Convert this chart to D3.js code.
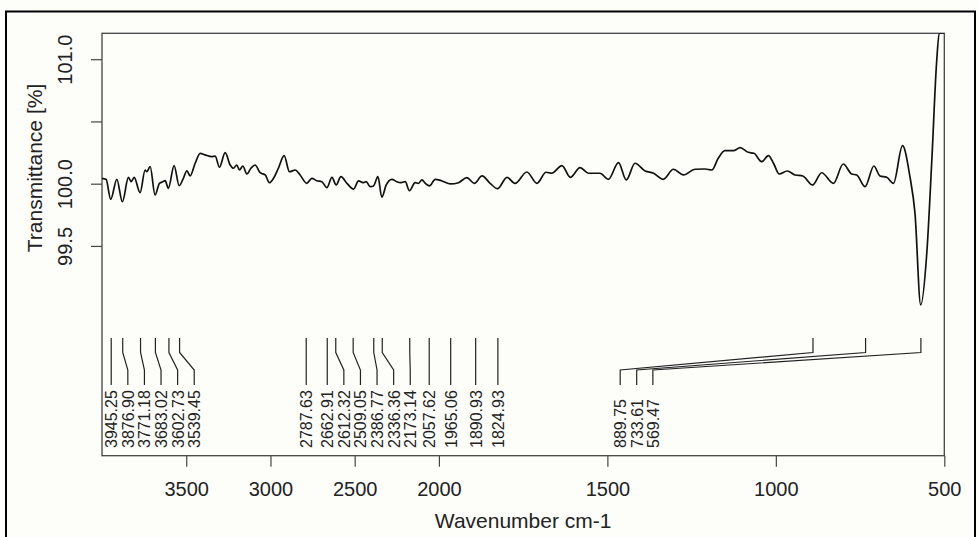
<!DOCTYPE html>
<html>
<head>
<meta charset="utf-8">
<script src="https://cdn.jsdelivr.net/npm/d3@7"></script>
<style>
  body { margin: 0; background: #fdfdfa; }
  svg { display: block; font-family: "Liberation Sans", Arial, sans-serif; }
</style>
</head>
<body>
<svg id="irPlot" width="978" height="537"></svg>
<script>
// ************************************
// Data
// ************************************

const wavenumber = [
  4000, 3976, 3948, 3912, 3879, 3843, 3827, 3809, 3774, 3744, 3734, 3714, 3685, 3659, 3639, 3625,
  3606, 3572, 3542, 3517, 3496, 3477, 3447, 3417, 3388, 3348, 3328, 3303, 3269, 3239, 3220, 3200,
  3184, 3164, 3140, 3116, 3091, 3061, 3031, 3006, 2982, 2953, 2919, 2887, 2853, 2824, 2784, 2754,
  2725, 2695, 2665, 2635, 2610, 2582, 2546, 2507, 2477, 2451, 2432, 2408, 2388, 2362, 2339, 2313,
  2279, 2250, 2230, 2200, 2175, 2141, 2121, 2101, 2081, 2056, 2022, 1991, 1966, 1942, 1917, 1895,
  1872, 1848, 1826, 1798, 1774, 1739, 1709, 1682, 1665, 1635, 1610, 1581, 1556, 1522, 1497, 1467,
  1444, 1418, 1388, 1363, 1334, 1304, 1274, 1240, 1210, 1190, 1171, 1151, 1126, 1106, 1082, 1065,
  1042, 1022, 1007, 990, 966, 943, 920, 891, 864, 829, 800, 775, 760, 735, 709, 691,
  671, 651, 624, 602, 587, 570, 552, 537, 523, 515, 500
];

const transmittance = [
  100.043, 100.035, 99.875, 100.035, 99.855, 100.051, 100.016, 100.051, 99.928, 100.110, 100.096, 100.137, 99.909, 100.003, 100.016, 100.024,
  99.963, 100.145, 99.984, 100.043, 100.104, 100.062, 100.164, 100.244, 100.231, 100.217, 100.222, 100.132, 100.249, 100.150, 100.124, 100.150,
  100.110, 100.142, 100.078, 100.124, 100.150, 100.088, 100.070, 100.008, 100.043, 100.124, 100.225, 100.096, 100.110, 100.070, 100.003, 100.043,
  100.024, 100.016, 99.968, 100.051, 99.990, 100.056, 100.003, 99.957, 100.022, 100.008, 100.016, 99.976, 99.982, 100.056, 99.891, 99.990,
  100.035, 100.016, 100.008, 100.016, 99.944, 100.008, 100.003, 100.030, 100.003, 99.982, 100.035, 100.022, 99.998, 100.008, 100.048, 100.003,
  100.062, 100.003, 99.960, 100.051, 100.003, 100.094, 100.003, 100.092, 100.084, 100.145, 100.051, 100.129, 100.084, 100.084, 100.035, 100.169,
  100.030, 100.164, 100.102, 100.084, 100.035, 100.116, 100.070, 100.116, 100.118, 100.110, 100.204, 100.265, 100.265, 100.289, 100.252, 100.244,
  100.177, 100.225, 100.164, 100.078, 100.102, 100.070, 100.062, 99.990, 100.088, 100.003, 100.158, 100.078, 100.070, 99.976, 100.142, 100.062,
  100.051, 100.003, 100.305, 100.056, 99.762, 99.026, 99.441, 100.190, 100.967, 101.210, 101.210
];

// picked peaks
const peaks = [
  3945.25, 3876.90, 3771.18, 3683.02, 3602.73, 3539.45,
  2787.63, 2662.91, 2612.32, 2509.05, 2386.77, 2336.36, 2173.14, 2057.62,
  1965.06, 1890.93, 1824.93,
  889.75, 733.61, 569.47
];
// where a label was moved away from its peak (cm-1), null = spread normally
const labelAt = [
  null, null, null, null, null, null,
  null, null, null, null, null, null, null, null,
  null, null, null,
  1462, 1413, 1365
];

const xTicks = [3500, 3000, 2500, 2000, 1500, 1000, 500];
const yTicks = [99.5, 100.0, 100.5, 101.0];
const yTickLabels = ["99.5", "100.0", "", "101.0"];


// ************************************
// Plot area
// ************************************

const svg = d3.select("#irPlot");

const box = { left: 102, right: 944.3, top: 33.3, bottom: 455.7 };

// axis is squeezed above 2000 cm-1
const x = d3.scaleLinear()
    .domain([4000, 2000, 500])
    .range([box.left, box.left + (box.right - box.left) * 0.4, box.right]);

const y = d3.scaleLinear()
    .domain([97.815, 101.208])
    .range([box.bottom, box.top]);

// outer frame
svg.append("rect")
    .attr("x", 6).attr("y", 11.5)
    .attr("width", 969).attr("height", 560)
    .attr("fill", "none")
    .attr("stroke", "#000")
    .attr("stroke-width", 2);

svg.append("clipPath").attr("id", "clip")
  .append("rect")
    .attr("x", box.left).attr("y", box.top)
    .attr("width", box.right - box.left).attr("height", box.bottom - box.top);

// X axis
const xAxis = svg.append("g")
    .attr("class", "x axis")
    .attr("transform", `translate(0,${box.bottom})`)
    .call(d3.axisBottom(x).tickValues(xTicks).tickSize(11).tickFormat(d3.format("d")));

xAxis.select(".domain").remove();
xAxis.selectAll("line").attr("stroke", "#444").attr("stroke-width", 1.2);
xAxis.selectAll("text")
    .attr("dy", null)
    .attr("y", 40.5)
    .attr("fill", "#222")
    .style("font-size", "20px");

// Y axis
const yAxis = svg.append("g")
    .attr("class", "y axis")
    .attr("transform", `translate(${box.left},0)`)
    .call(d3.axisLeft(y).tickValues(yTicks).tickSize(11).tickFormat((d, i) => yTickLabels[i]));

yAxis.select(".domain").remove();
yAxis.selectAll("line").attr("stroke", "#444").attr("stroke-width", 1.2);
yAxis.selectAll("text")
    .attr("transform", "rotate(-90)")
    .attr("x", 0)
    .attr("y", -30)
    .attr("dy", null)
    .attr("text-anchor", "middle")
    .attr("fill", "#222")
    .style("font-size", "20px");

// box round the plot
svg.append("rect")
    .attr("x", box.left).attr("y", box.top)
    .attr("width", box.right - box.left).attr("height", box.bottom - box.top)
    .attr("fill", "none")
    .attr("stroke", "#444")
    .attr("stroke-width", 1.3);

// axis titles
svg.append("text")
    .attr("x", (x(4000) + x(500)) / 2)
    .attr("y", 528)
    .attr("text-anchor", "middle")
    .attr("fill", "#222")
    .style("font-size", "21px")
    .text("Wavenumber cm-1");

svg.append("text")
    .attr("transform", "translate(41.5,168) rotate(-90)")
    .attr("text-anchor", "middle")
    .attr("fill", "#222")
    .style("font-size", "21px")
    .text("Transmittance [%]");


// ************************************
// Spectrum
// ************************************

const spectrum = wavenumber.map((w, i) => ({ w: w, t: transmittance[i] }));

const line = d3.line()
    .x(d => x(d.w))
    .y(d => y(d.t))
    .curve(d3.curveMonotoneX);

svg.append("path")
    .datum(spectrum)
    .attr("clip-path", "url(#clip)")
    .attr("d", line)
    .attr("fill", "none")
    .attr("stroke", "#111")
    .attr("stroke-width", 1.7);


// ************************************
// Peak labels, spread so they don't overlap
// ************************************

const gap = 16.6;
let prev = -Infinity;
const labelX = peaks.map((p, i) => {
    const lx = labelAt[i] != null ? x(labelAt[i]) : Math.max(x(p), prev + gap);
    prev = lx;
    return lx;
});

const lineTop = 338, bend1 = 352.5, bend2 = 370, lineBottom = 385;

svg.append("g")
    .selectAll("path")
    .data(peaks)
    .enter()
    .append("path")
    .attr("d", (p, i) => `M${x(p)},${lineTop}V${bend1}L${labelX[i]},${bend2}V${lineBottom}`)
    .attr("fill", "none")
    .attr("stroke", "#222")
    .attr("stroke-width", 1.2);

svg.append("g")
    .selectAll("text")
    .data(peaks)
    .enter()
    .append("text")
    .attr("transform", (p, i) => `translate(${labelX[i] + 6},448) rotate(-90)`)
    .attr("fill", "#222")
    .style("font-size", "16px")
    .text(d3.format(".2f"));
</script>
</body>
</html>
